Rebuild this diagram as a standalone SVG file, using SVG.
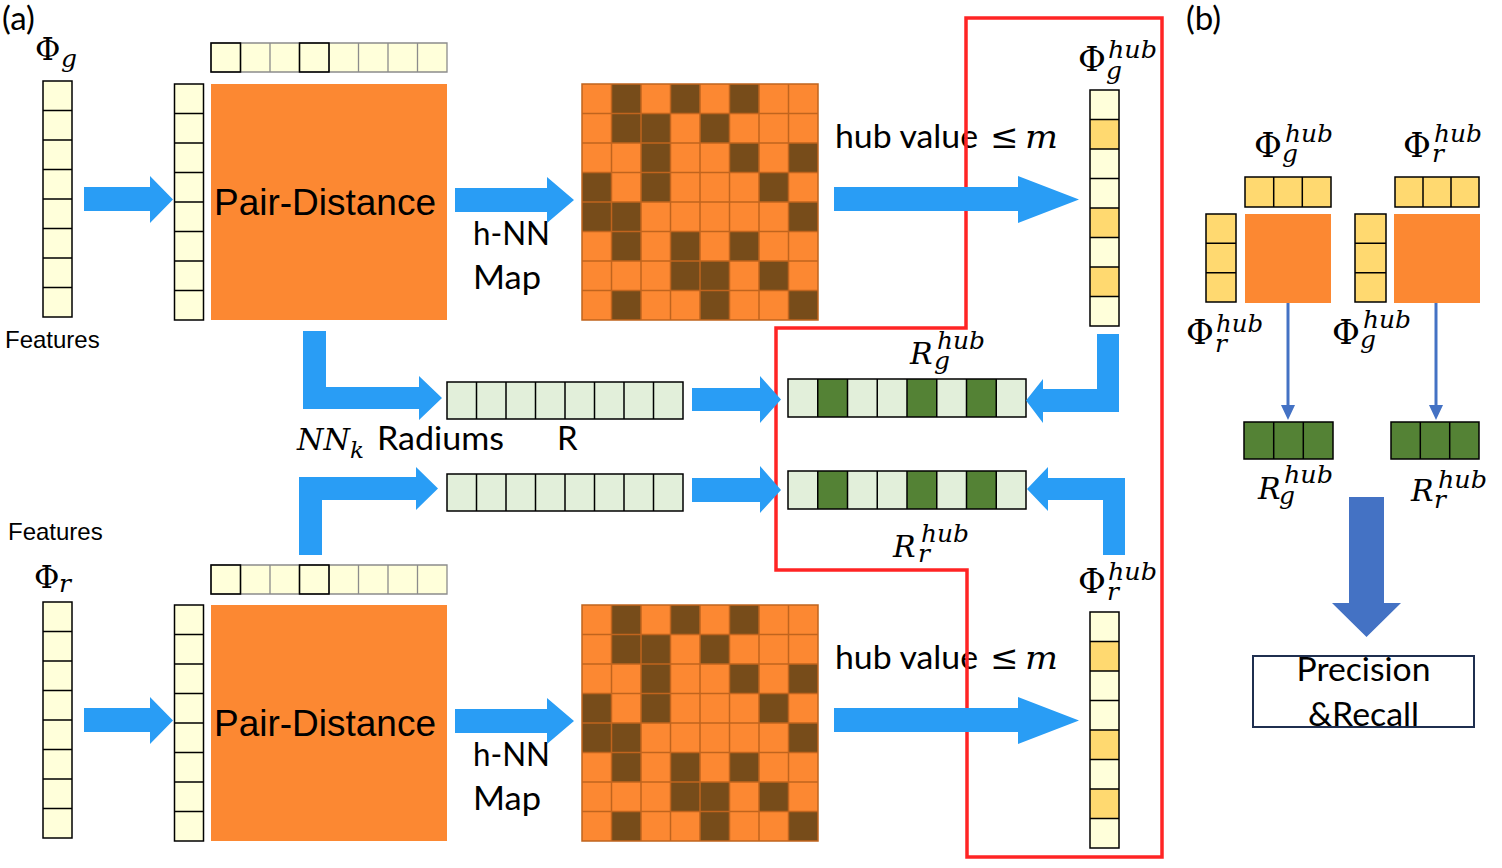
<svg xmlns="http://www.w3.org/2000/svg" xmlns:xlink="http://www.w3.org/1999/xlink" width="1502" height="868" viewBox="0 0 1502 868">
<style>
.cal{font-family:Lato,"Open Sans","Liberation Sans",sans-serif;font-size:33px;fill:#000}
.ari{font-family:"Liberation Sans",Arial,sans-serif;fill:#000}
.mi{font-family:"DejaVu Serif","Liberation Serif",serif;font-style:italic;fill:#000}
.mu{font-family:"DejaVu Serif","Liberation Serif",serif;fill:#000}
.yl{fill:#FFFFDA}
.gd{fill:#FFD970}
.lg{fill:#E2EFDA}
.dg{fill:#548235}
.org{fill:#FC8832}
.ln{fill:none;stroke:#000;stroke-width:1.5}
.arw{fill:#299DF5}
.barw{fill:#4472C4}
</style>
<defs>
<g id="col8">
<rect class="yl" width="29" height="236"/>
<path class="ln" d="M0 29.5H29M0 59H29M0 88.5H29M0 118H29M0 147.5H29M0 177H29M0 206.5H29"/>
<rect class="ln" width="29" height="236"/>
</g>
<g id="hubcol">
<rect class="yl" width="29" height="236"/>
<rect class="gd" y="29.5" width="29" height="29.5"/>
<rect class="gd" y="118" width="29" height="29.5"/>
<rect class="gd" y="177" width="29" height="29.5"/>
<path class="ln" d="M0 29.5H29M0 59H29M0 88.5H29M0 118H29M0 147.5H29M0 177H29M0 206.5H29"/>
<rect class="ln" width="29" height="236"/>
</g>
<g id="row8">
<rect class="yl" width="236" height="29"/>
<path fill="none" stroke="#8C8C8C" stroke-width="1.3" d="M0 0H236V29H0ZM29.5 0V29M59 0V29M88.5 0V29M118 0V29M147.5 0V29M177 0V29M206.5 0V29"/>
<rect class="ln" width="29.5" height="29"/>
<rect class="ln" x="88.5" width="29.5" height="29"/>
</g>
<g id="hnn">
<rect class="org" width="236" height="236"/>
<g fill="#774C1A">
<rect x="29.5" y="0" width="29.5" height="29.5"/><rect x="88.5" y="0" width="29.5" height="29.5"/><rect x="147.5" y="0" width="29.5" height="29.5"/>
<rect x="29.5" y="29.5" width="29.5" height="29.5"/><rect x="59" y="29.5" width="29.5" height="29.5"/><rect x="118" y="29.5" width="29.5" height="29.5"/>
<rect x="59" y="59" width="29.5" height="29.5"/><rect x="147.5" y="59" width="29.5" height="29.5"/><rect x="206.5" y="59" width="29.5" height="29.5"/>
<rect x="0" y="88.5" width="29.5" height="29.5"/><rect x="59" y="88.5" width="29.5" height="29.5"/><rect x="177" y="88.5" width="29.5" height="29.5"/>
<rect x="0" y="118" width="29.5" height="29.5"/><rect x="29.5" y="118" width="29.5" height="29.5"/><rect x="206.5" y="118" width="29.5" height="29.5"/>
<rect x="29.5" y="147.5" width="29.5" height="29.5"/><rect x="88.5" y="147.5" width="29.5" height="29.5"/><rect x="147.5" y="147.5" width="29.5" height="29.5"/>
<rect x="88.5" y="177" width="29.5" height="29.5"/><rect x="118" y="177" width="29.5" height="29.5"/><rect x="177" y="177" width="29.5" height="29.5"/>
<rect x="29.5" y="206.5" width="29.5" height="29.5"/><rect x="118" y="206.5" width="29.5" height="29.5"/><rect x="206.5" y="206.5" width="29.5" height="29.5"/>
</g>
<path fill="none" stroke="#C0641E" stroke-width="1.5" d="M0 0H236V236H0ZM0 29.5H236M0 59H236M0 88.5H236M0 118H236M0 147.5H236M0 177H236M0 206.5H236M29.5 0V236M59 0V236M88.5 0V236M118 0V236M147.5 0V236M177 0V236M206.5 0V236"/>
</g>
<g id="rbar">
<rect class="lg" width="236" height="37"/>
<path class="ln" d="M0 0H236V37H0ZM29.5 0V37M59 0V37M88.5 0V37M118 0V37M147.5 0V37M177 0V37M206.5 0V37"/>
</g>
<g id="gbar">
<rect class="lg" width="238" height="38"/>
<rect class="dg" x="29.75" width="29.75" height="38"/>
<rect class="dg" x="119" width="29.75" height="38"/>
<rect class="dg" x="178.5" width="29.75" height="38"/>
<path class="ln" d="M0 0H238V38H0ZM29.75 0V38M59.5 0V38M89.25 0V38M119 0V38M148.75 0V38M178.5 0V38M208.25 0V38"/>
</g>
</defs>
<rect width="1502" height="868" fill="#fff"/>

<!-- panel labels -->
<g id="label-a"><text class="cal" x="2" y="30">(a)</text></g>
<g id="label-b"><text class="cal" x="1186" y="30">(b)</text></g>

<!-- top branch -->
<g id="phi-g-features">
<text class="mu" font-size="31"><tspan x="35" y="60">Φ</tspan><tspan class="mi" x="61" y="67" font-size="25">g</tspan></text>
<use xlink:href="#col8" x="43" y="81"/>
<text class="ari" x="5" y="348" font-size="24">Features</text>
</g>
<g id="phi-g-col"><use xlink:href="#col8" x="174.5" y="84"/></g>
<g id="pair-distance-g">
<use xlink:href="#row8" x="211" y="43"/>
<rect class="org" x="211" y="84" width="236" height="236"/>
<text class="ari" x="214" y="215" font-size="37" textLength="222" lengthAdjust="spacingAndGlyphs">Pair-Distance</text>
</g>
<g id="hnn-map-g">
<use xlink:href="#hnn" x="582" y="84"/>
<text class="cal" x="473" y="245" textLength="77" lengthAdjust="spacingAndGlyphs">h-NN</text>
<text class="cal" x="473" y="289" textLength="68" lengthAdjust="spacingAndGlyphs">Map</text>
</g>
<g id="hub-cond-g">
<text class="cal" x="835" y="148" textLength="143" lengthAdjust="spacingAndGlyphs">hub value</text>
<text class="mu" x="990" y="148" font-size="34">≤</text>
<text class="mi" x="1025" y="148" font-size="31" textLength="33" lengthAdjust="spacingAndGlyphs">m</text>
</g>
<g id="phi-g-hub">
<text class="mu" font-size="34"><tspan x="1078" y="71">Φ</tspan><tspan class="mi" x="1108" y="58" font-size="24" textLength="49" lengthAdjust="spacingAndGlyphs">hub</tspan><tspan class="mi" x="1106" y="79" font-size="25">g</tspan></text>
<use xlink:href="#hubcol" x="1090" y="90"/>
</g>

<!-- middle -->
<g id="radius-g"><use xlink:href="#rbar" x="447" y="382"/></g>
<g id="radius-r"><use xlink:href="#rbar" x="447" y="474"/></g>
<g id="radius-label">
<text class="mi" font-size="29"><tspan x="297" y="450" textLength="53" lengthAdjust="spacingAndGlyphs">NN</tspan><tspan x="350" y="458" font-size="23">k</tspan></text>
<text class="cal" x="377" y="450" textLength="127" lengthAdjust="spacingAndGlyphs">Radiums</text>
<text class="cal" x="557" y="450">R</text>
</g>
<g id="r-g-hub">
<use xlink:href="#gbar" x="788" y="379"/>
<text class="mi" font-size="30"><tspan x="910" y="364">R</tspan><tspan x="937" y="349" font-size="24" textLength="48" lengthAdjust="spacingAndGlyphs">hub</tspan><tspan x="934" y="369" font-size="25">g</tspan></text>
</g>
<g id="r-r-hub">
<use xlink:href="#gbar" x="788" y="471"/>
<text class="mi" font-size="30"><tspan x="893" y="557">R</tspan><tspan x="921" y="542" font-size="24" textLength="48" lengthAdjust="spacingAndGlyphs">hub</tspan><tspan x="918" y="562" font-size="25">r</tspan></text>
</g>

<!-- bottom branch -->
<g id="phi-r-features">
<text class="ari" x="8" y="540" font-size="24">Features</text>
<text class="mu" font-size="31"><tspan x="34" y="588">Φ</tspan><tspan class="mi" x="59" y="592" font-size="25">r</tspan></text>
<use xlink:href="#col8" x="43" y="602"/>
</g>
<g id="phi-r-col"><use xlink:href="#col8" x="174.5" y="605"/></g>
<g id="pair-distance-r">
<use xlink:href="#row8" x="211" y="565"/>
<rect class="org" x="211" y="605" width="236" height="236"/>
<text class="ari" x="214" y="736" font-size="37" textLength="222" lengthAdjust="spacingAndGlyphs">Pair-Distance</text>
</g>
<g id="hnn-map-r">
<use xlink:href="#hnn" x="582" y="605"/>
<text class="cal" x="473" y="766" textLength="77" lengthAdjust="spacingAndGlyphs">h-NN</text>
<text class="cal" x="473" y="810" textLength="68" lengthAdjust="spacingAndGlyphs">Map</text>
</g>
<g id="hub-cond-r">
<text class="cal" x="835" y="669" textLength="143" lengthAdjust="spacingAndGlyphs">hub value</text>
<text class="mu" x="990" y="669" font-size="34">≤</text>
<text class="mi" x="1025" y="669" font-size="31" textLength="33" lengthAdjust="spacingAndGlyphs">m</text>
</g>
<g id="phi-r-hub">
<text class="mu" font-size="34"><tspan x="1078" y="593">Φ</tspan><tspan class="mi" x="1108" y="580" font-size="24" textLength="49" lengthAdjust="spacingAndGlyphs">hub</tspan><tspan class="mi" x="1107" y="600" font-size="25">r</tspan></text>
<use xlink:href="#hubcol" x="1090" y="612"/>
</g>

<!-- red region -->
<g id="hub-region">
<path d="M966 18H1162V857H967V570H776V328H966Z" fill="none" stroke="#FF2424" stroke-width="3.5"/>
</g>

<!-- panel b -->
<g id="b-pair-g">
<text class="mu" font-size="34"><tspan x="1254" y="157">Φ</tspan><tspan class="mi" x="1285" y="142" font-size="24" textLength="48" lengthAdjust="spacingAndGlyphs">hub</tspan><tspan class="mi" x="1282" y="162" font-size="25">g</tspan></text>
<rect class="gd" x="1245" y="177" width="86" height="30"/>
<path class="ln" d="M1245 177H1331V207H1245ZM1273.7 177V207M1302.3 177V207"/>
<rect class="org" x="1245" y="214" width="86" height="89"/>
<rect class="gd" x="1206" y="214" width="30" height="88"/>
<path class="ln" d="M1206 214H1236V302H1206ZM1206 243.3H1236M1206 272.7H1236"/>
<text class="mu" font-size="34"><tspan x="1186" y="344">Φ</tspan><tspan class="mi" x="1216" y="332" font-size="24" textLength="47" lengthAdjust="spacingAndGlyphs">hub</tspan><tspan class="mi" x="1215" y="352" font-size="25">r</tspan></text>
</g>
<g id="b-pair-r">
<text class="mu" font-size="34"><tspan x="1403" y="157">Φ</tspan><tspan class="mi" x="1434" y="142" font-size="24" textLength="48" lengthAdjust="spacingAndGlyphs">hub</tspan><tspan class="mi" x="1432" y="162" font-size="25">r</tspan></text>
<rect class="gd" x="1395" y="177" width="84" height="30"/>
<path class="ln" d="M1395 177H1479V207H1395ZM1423 177V207M1451 177V207"/>
<rect class="org" x="1394" y="214" width="86" height="89"/>
<rect class="gd" x="1355" y="214" width="31" height="88"/>
<path class="ln" d="M1355 214H1386V302H1355ZM1355 243.3H1386M1355 272.7H1386"/>
<text class="mu" font-size="34"><tspan x="1332" y="344">Φ</tspan><tspan class="mi" x="1363" y="328" font-size="24" textLength="48" lengthAdjust="spacingAndGlyphs">hub</tspan><tspan class="mi" x="1360" y="348" font-size="25">g</tspan></text>
</g>
<g id="b-r-g-hub">
<rect class="dg" x="1244" y="422" width="89" height="37"/>
<path class="ln" d="M1244 422H1333V459H1244ZM1273.7 422V459M1303.3 422V459"/>
<text class="mi" font-size="30"><tspan x="1258" y="499">R</tspan><tspan x="1284" y="483" font-size="24" textLength="49" lengthAdjust="spacingAndGlyphs">hub</tspan><tspan x="1279" y="504" font-size="25">g</tspan></text>
</g>
<g id="b-r-r-hub">
<rect class="dg" x="1391" y="422" width="88" height="37"/>
<path class="ln" d="M1391 422H1479V459H1391ZM1420.3 422V459M1449.7 422V459"/>
<text class="mi" font-size="30"><tspan x="1411" y="501">R</tspan><tspan x="1438" y="488" font-size="24" textLength="49" lengthAdjust="spacingAndGlyphs">hub</tspan><tspan x="1434" y="508" font-size="25">r</tspan></text>
</g>
<g id="b-precision">
<rect x="1253" y="656" width="221" height="71" fill="none" stroke="#1F2F4F" stroke-width="2"/>
<text class="cal" x="1363.5" y="681" text-anchor="middle" textLength="134" lengthAdjust="spacingAndGlyphs">Precision</text>
<text class="cal" x="1363.5" y="726" text-anchor="middle" textLength="111" lengthAdjust="spacingAndGlyphs">&amp;Recall</text>
</g>

<!-- connectors -->
<g id="connectors">
<polygon class="arw" points="84,187 150,187 150,176 173,199.5 150,223 150,211 84,211"/>
<polygon class="arw" points="455,188 547,188 547,177 574,200 547,223 547,212 455,212"/>
<polygon class="arw" points="834,187 1018,187 1018,176 1079,199.5 1018,223 1018,211 834,211"/>
<polygon class="arw" points="84,708 150,708 150,697 173,720.5 150,744 150,732 84,732"/>
<polygon class="arw" points="455,709 547,709 547,698 574,721 547,744 547,733 455,733"/>
<polygon class="arw" points="834,708 1018,708 1018,697 1079,720.5 1018,744 1018,732 834,732"/>
<polygon class="arw" points="303,331 326,331 326,387 419,387 419,376 442,398 419,420 419,409 303,409"/>
<polygon class="arw" points="299,555 299,477 416,477 416,467 438,488.5 416,510 416,500 322,500 322,555"/>
<polygon class="arw" points="692,388 760,388 760,376 781,399.5 760,423 760,411 692,411"/>
<polygon class="arw" points="692,478 760,478 760,466 781,490 760,513 760,502 692,502"/>
<polygon class="arw" points="1097,334 1119,334 1119,412 1043,412 1043,423 1026,400.5 1043,379 1043,389 1097,389"/>
<polygon class="arw" points="1103,555 1125,555 1125,478 1048,478 1048,467 1027,489 1048,511 1048,500 1103,500"/>
<line x1="1288" y1="303" x2="1288" y2="406" stroke="#4472C4" stroke-width="3"/>
<polygon class="barw" points="1281,405 1295,405 1288,420"/>
<line x1="1436" y1="303" x2="1436" y2="406" stroke="#4472C4" stroke-width="3"/>
<polygon class="barw" points="1429,405 1443,405 1436,420"/>
<polygon class="barw" points="1349,497 1384,497 1384,603 1401,603 1366.5,637 1332,603 1349,603"/>
</g>
</svg>
